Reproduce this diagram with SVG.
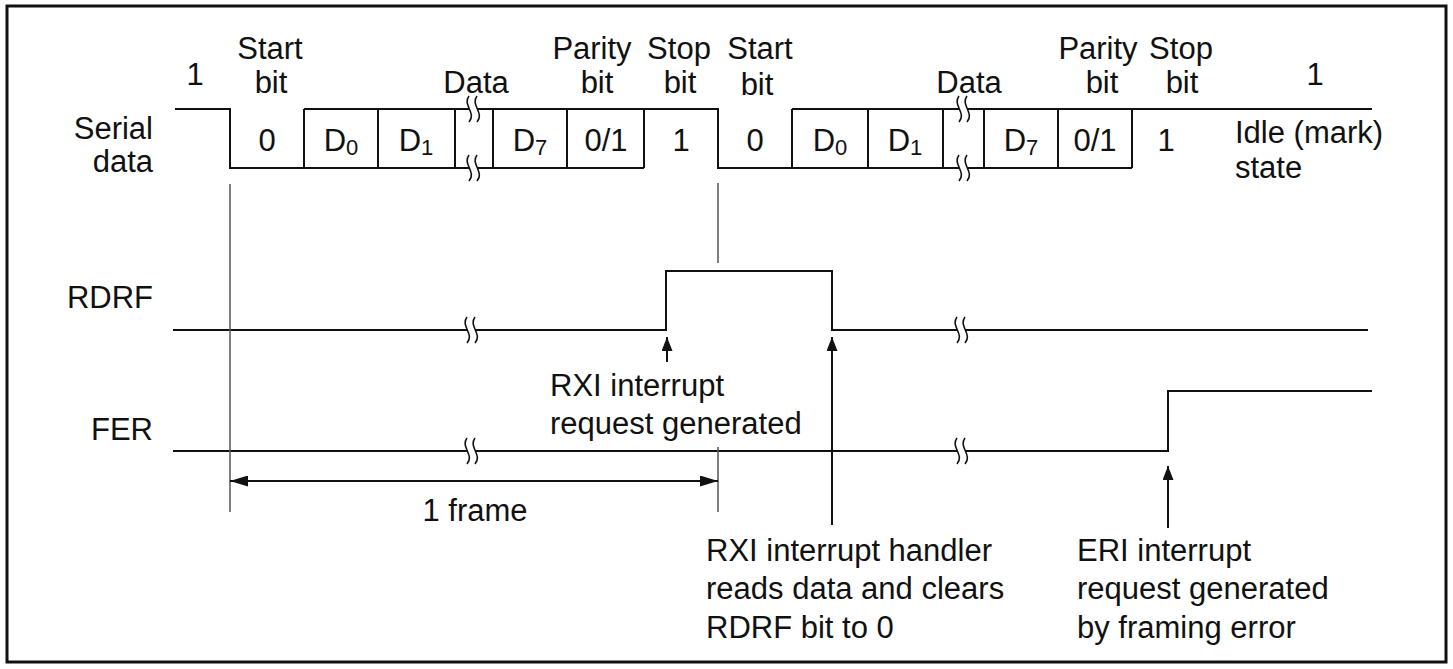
<svg xmlns="http://www.w3.org/2000/svg" width="1453" height="669" viewBox="0 0 1453 669">
<defs>
<style>
text { font-family: "Liberation Sans", Arial, sans-serif; font-size: 31px; fill: #111; }
.c { text-anchor: middle; }
.r { text-anchor: end; }
.sub { font-size: 22px; }
.sig { fill: none; stroke: #111; stroke-width: 2; }
.guide { fill: none; stroke: #555; stroke-width: 1.5; }
.arr { fill: none; stroke: #111; stroke-width: 2; }
.bw { fill: #fff; stroke: none; }
.bs { fill: none; stroke: #111; stroke-width: 1.6; }
</style>
<marker id="ah" viewBox="0 0 14 11" refX="14" refY="5.5" markerWidth="14" markerHeight="11" markerUnits="userSpaceOnUse" orient="auto-start-reverse"><path d="M0,0 L14,5.5 L0,11 Z" fill="#111"/></marker>
<marker id="ahf" viewBox="0 0 18 11" refX="18" refY="5.5" markerWidth="18" markerHeight="11" markerUnits="userSpaceOnUse" orient="auto-start-reverse"><path d="M0,0 L18,5.5 L0,11 Z" fill="#111"/></marker>
<g id="bk">
<path class="bw" d="M-5,-13 C-12,-4 3,4 -5,13 L3,13 C11,4 -4,-4 3,-13 Z"/>
<path class="bs" d="M-5,-13 C-12,-4 3,4 -5,13"/>
<path class="bs" d="M3,-13 C-4,-4 11,4 3,13"/>
</g>
</defs>
<rect x="7" y="6" width="1439" height="656" fill="#fff" stroke="#111" stroke-width="3"/>

<g id="serial">
<text class="r" x="153" y="139">Serial</text>
<text class="r" x="153" y="172">data</text>
<path class="sig" d="M175,109 H230 V168 H644 M304,109 H718 V168 H1132 M792,109 H1372"/>
<path class="sig" d="M304,109 V168 M378,109 V168 M455,109 V168 M493,109 V168 M567,109 V168 M644,109 V168 M792,109 V168 M868,109 V168 M943,109 V168 M984,109 V168 M1058,109 V168 M1132,109 V168"/>
<use href="#bk" x="474" y="109"/>
<use href="#bk" x="474" y="168"/>
<use href="#bk" x="964" y="109"/>
<use href="#bk" x="964" y="168"/>
<text class="c" x="195" y="85">1</text>
<text class="c" x="270" y="59">Start</text>
<text class="c" x="271" y="93">bit</text>
<text class="c" x="476" y="93">Data</text>
<text class="c" x="592" y="59">Parity</text>
<text class="c" x="597" y="93">bit</text>
<text class="c" x="679" y="59">Stop</text>
<text class="c" x="680" y="93">bit</text>
<text class="c" x="760" y="59">Start</text>
<text class="c" x="757" y="95">bit</text>
<text class="c" x="969" y="93">Data</text>
<text class="c" x="1098" y="59">Parity</text>
<text class="c" x="1102" y="93">bit</text>
<text class="c" x="1181" y="59">Stop</text>
<text class="c" x="1182" y="93">bit</text>
<text class="c" x="1315" y="85">1</text>
<text class="c" x="267" y="151">0</text>
<text class="c" x="341" y="151">D<tspan class="sub" dy="4">0</tspan></text>
<text class="c" x="416" y="151">D<tspan class="sub" dy="4">1</tspan></text>
<text class="c" x="530" y="151">D<tspan class="sub" dy="4">7</tspan></text>
<text class="c" x="606" y="151">0/1</text>
<text class="c" x="681" y="151">1</text>
<text class="c" x="755" y="151">0</text>
<text class="c" x="830" y="151">D<tspan class="sub" dy="4">0</tspan></text>
<text class="c" x="905" y="151">D<tspan class="sub" dy="4">1</tspan></text>
<text class="c" x="1021" y="151">D<tspan class="sub" dy="4">7</tspan></text>
<text class="c" x="1095" y="151">0/1</text>
<text class="c" x="1166" y="151">1</text>
<text x="1235" y="143">Idle (mark)</text>
<text x="1235" y="178">state</text>
</g>

<g id="rdrf">
<text class="r" x="153" y="308">RDRF</text>
<path class="sig" d="M173,330 H666 V271 H832 V330 H1368"/>
<use href="#bk" x="472" y="330"/>
<use href="#bk" x="962" y="330"/>
</g>

<g id="fer">
<text class="r" x="153" y="440">FER</text>
<path class="sig" d="M173,451 H1168 V391 H1372"/>
<use href="#bk" x="472" y="451"/>
<use href="#bk" x="962" y="451"/>
</g>

<g id="guides">
<path class="guide" d="M230,184 V512 M718,183 V263 M718,447 V512"/>
</g>

<g id="connectors">
<path class="arr" d="M230,481 H718" marker-start="url(#ahf)" marker-end="url(#ahf)"/>
<path class="arr" d="M667,362 V337" marker-end="url(#ah)"/>
<path class="arr" d="M832,525 V337" marker-end="url(#ah)"/>
<path class="arr" d="M1168,528 V466" marker-end="url(#ah)"/>
</g>

<g id="frame-label">
<text class="c" x="475" y="521">1 frame</text>
</g>
<g id="rxi-label">
<text x="550" y="396">RXI interrupt</text>
<text x="550" y="434">request generated</text>
</g>
<g id="handler-label">
<text x="706" y="561">RXI interrupt handler</text>
<text x="706" y="599">reads data and clears</text>
<text x="706" y="638">RDRF bit to 0</text>
</g>
<g id="eri-label">
<text x="1077" y="561">ERI interrupt</text>
<text x="1077" y="599">request generated</text>
<text x="1077" y="638">by framing error</text>
</g>
</svg>
